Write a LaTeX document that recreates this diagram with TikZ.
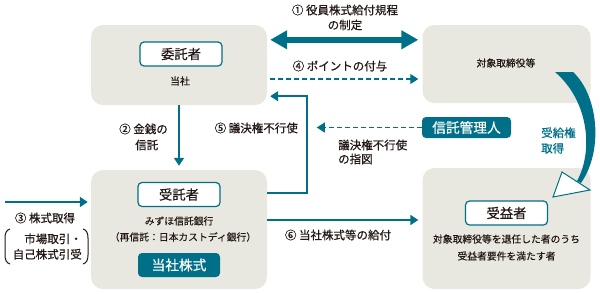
\documentclass[tikz,border=0pt]{standalone}
\usepackage{fontspec}
\setmainfont{Noto Sans CJK JP}
\newfontfamily\jpmed[FakeBold=0.6]{Noto Sans CJK JP}
\newfontfamily\jpsemi[FakeBold=0.3]{Noto Sans CJK JP}
\usetikzlibrary{arrows.meta,calc}
\definecolor{teal1}{HTML}{007088}
\definecolor{panel}{HTML}{E8E7E0}
\definecolor{ink}{HTML}{231815}
\begin{document}
\begin{tikzpicture}[x=1pt,y=-1pt,
  panelbox/.style={fill=panel, rounded corners=12pt, draw=none, inner sep=0pt},
  tagbox/.style={draw=teal1, line width=1.2pt, fill=white, rounded corners=4pt, minimum width=82pt, minimum height=24pt, inner sep=0pt, font=\jpmed\fontsize{13.3}{15}\selectfont, text=ink},
  tagfill/.style={fill=teal1, rounded corners=4pt, inner sep=0pt, font=\jpmed\fontsize{13.7}{15}\selectfont, text=white},
  bodytxt/.style={font=\jpsemi\fontsize{9.8}{17}\selectfont, text=ink, inner sep=0pt},
  lbl/.style={font=\jpmed\fontsize{11.5}{15.5}\selectfont, text=ink, inner sep=0pt},
  conn/.style={draw=teal1, line width=1.6pt, -{Triangle[length=8pt,width=10pt]}},
  dconn/.style={draw=teal1, line width=1.2pt, dash pattern=on 5pt off 3pt, -{Triangle[length=8pt,width=10pt]}},
  thick2/.style={draw=teal1, line width=6pt, {Triangle[length=17pt,width=18pt]}-{Triangle[length=17pt,width=18pt]}},
  paren/.style={draw=ink, line width=1pt},
]
\useasboundingbox (0,0) rectangle (600,293);

% panels
\node[panelbox, minimum width=176pt, minimum height=80pt] (itakuP) at (179,65) {};
\node[panelbox, minimum width=168pt, minimum height=78pt] (taishoP) at (506.5,64) {};
\node[panelbox, minimum width=176pt, minimum height=119pt] (jutakuP) at (179,229.5) {};
\node[panelbox, minimum width=168pt, minimum height=121pt] (juekiP) at (506.5,228.5) {};

% tags
\node[tagbox] (tag1) at (181,54) {委託者};
\node[bodytxt] (toshaA) at (180,81) {当社};
\node[bodytxt] (taishoT) at (506,63) {対象取締役等};
\node[tagbox] (tag2) at (179,194.5) {受託者};
\node[bodytxt] (mizuho) at (179,221) {みずほ信託銀行};
\node[bodytxt] (saishin) at (183,237) {（再信託：日本カストディ銀行）};
\node[tagfill, minimum width=82pt, minimum height=24pt] (stock) at (179,265) {当社株式};
\node[tagbox] (tag3) at (506.5,213) {受益者};
\node[bodytxt, align=center] (juekiT) at (506.5,247.5) {対象取締役等を退任した者のうち\\受益者要件を満たす者};
\node[tagfill, minimum width=89pt, minimum height=21pt] (kanri) at (466.5,127.5) {信託管理人};

% connectors
\draw[thick2] ($(itakuP.north east)+(3,15)$) -- ($(taishoP.north west)+(-4,15)$);
\draw[dconn] ($(itakuP.east)+(3,14)$) -- ($(taishoP.west)+(-4,15)$);
\draw[conn] ($(jutakuP.north east)+(0,23)$) -| ($(itakuP.south east)+(40,-9)$) -- ($(itakuP.south east)+(3,-9)$);
\draw[dconn] (kanri.west) -- ($(kanri.west)+(-105,0)$);
\draw[conn, shorten >=4pt] (itakuP.south) -- (jutakuP.north);
\coordinate (start3) at (5,202);
\draw[conn] (start3) -- ($(jutakuP.west)+(-3,-27.5)$);
\draw[conn] ($(jutakuP.east)+(0,-9.5)$) -- ($(juekiP.west)+(-4,-8.5)$);

% curved arrow
\fill[teal1] (555,72) -- (573,72) .. controls (598,95) and (604,150) .. (581,183) -- (577,181) .. controls (594,150) and (588,100) .. (555,72) -- cycle;
\filldraw[fill=white, draw=teal1, line width=1pt, line join=miter] (553,197) -- (562,172) -- (590,190) -- cycle;

% labels
\node[lbl] (l1a) at (345,10) {① 役員株式給付規程};
\node[lbl] (l1b) at (345,25) {の制定};
\node[lbl] (l4) at (340,66) {④ ポイントの付与};
\node[lbl, anchor=east] (l5) at (298,128) {⑤ 議決権不行使};
\node[lbl, anchor=east] (l2a) at (168,129) {② 金銭の};
\node[lbl, anchor=west] (l2b) at (135,145) {信託};
\node[lbl, anchor=west] (l5b) at (338,145) {議決権不行使};
\node[lbl, anchor=west] (l5c) at (338,159) {の指図};
\node[lbl] (l3) at (45,218) {③ 株式取得};
\node[lbl, align=right, anchor=east] (l3b) at (82,246.5) {市場取引・\\自己株式引受};
\draw[paren] (10,229) .. controls (6.5,230) and (5,233) .. (5,238) -- (5,255) .. controls (5,260) and (6.5,263) .. (10,264);
\draw[paren] (83,229) .. controls (86.5,230) and (88,233) .. (88,238) -- (88,255) .. controls (88,260) and (86.5,263) .. (83,264);
\node[lbl] (l6) at (338,235) {⑥ 当社株式等の給付};
\node[lbl, align=left, anchor=west, text=teal1] (jukyu) at (541,140.5) {受給権\\取得};
\end{tikzpicture}
\end{document}
